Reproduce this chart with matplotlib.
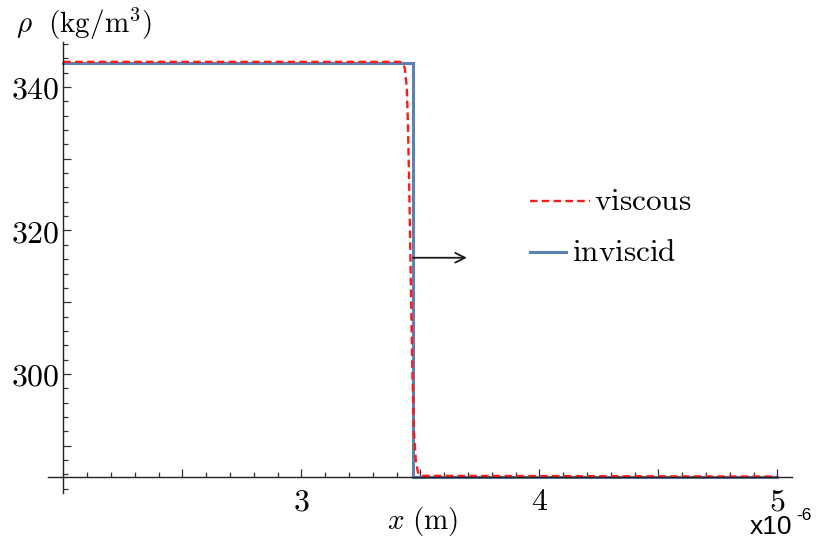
import matplotlib
matplotlib.use("Agg")
import matplotlib.pyplot as plt
from matplotlib.ticker import FixedLocator, FuncFormatter

plt.rcParams['mathtext.fontset'] = 'cm'

# positions in units of 1e-6 m, densities in kg/m^3
x_inviscid = [2.0, 3.4694, 3.4694, 5.0]
rho_inviscid = [343.3, 343.3, 285.64, 285.64]

x_viscous = [2.0, 3.414, 3.427, 3.435, 3.443, 3.448, 3.454, 3.460, 3.467,
             3.473, 3.481, 3.490, 3.502, 5.0]
rho_viscous = [343.5, 343.5, 343.3, 342.6, 340.0, 335.0, 325.0, 313.0, 300.0,
               292.0, 288.0, 286.3, 285.8, 285.7]

x_major = [2.5, 3, 3.5, 4, 4.5, 5]
x_labels = [3, 4, 5]
y_major = [290, 300, 310, 320, 330, 340]
y_labels = [300, 320, 340]

fig = plt.figure(figsize=(8.16, 5.42), dpi=100)
ax = fig.add_axes([0.0592, 0.0904, 0.9109, 0.8321])

ax.plot(x_inviscid, rho_inviscid, color='#5E81B5', lw=2.2, solid_joinstyle='miter')
ax.plot(x_viscous, rho_viscous, color='#FF1A1A', lw=1.7, dashes=(3.2, 1.8))

ax.set_xlim(1.937, 5.06)
ax.set_ylim(283.41, 346.27)

for s in ['top', 'right']:
    ax.spines[s].set_visible(False)
ax.spines['left'].set_position(('data', 2.0))
ax.spines['bottom'].set_position(('data', 285.64))
for s in ['left', 'bottom']:
    ax.spines[s].set_color('#222222')
    ax.spines[s].set_linewidth(1.0)

ax.xaxis.set_major_locator(FixedLocator(x_major))
ax.xaxis.set_minor_locator(FixedLocator([round(2.1 + 0.1 * i, 1) for i in range(29)]))
ax.yaxis.set_major_locator(FixedLocator(y_major))
ax.yaxis.set_minor_locator(FixedLocator(list(range(284, 347, 2))))

ax.xaxis.set_major_formatter(FuncFormatter(lambda v, p: f'${v:.0f}$' if round(v) in x_labels and abs(v - round(v)) < 1e-6 else ''))
ax.yaxis.set_major_formatter(FuncFormatter(lambda v, p: f'${v:.0f}$' if round(v) in y_labels else ''))

ax.tick_params(which='both', direction='in', color='#333333', width=0.9, labelsize=23)
ax.tick_params(which='major', length=6)
ax.tick_params(which='minor', length=3.3)
ax.tick_params(axis='x', pad=6.5)
ax.tick_params(axis='y', pad=3)

ax.text(0.02, 0.955, r'$\rho\ \ (\mathrm{kg/m}^3)$', transform=fig.transFigure,
        fontsize=21, ha='left', va='center')
ax.text(0.518, 0.037, r'$x\ (\mathrm{m})$', transform=fig.transFigure,
        fontsize=21, ha='center', va='center')
ax.text(0.919, 0.0148, 'x10', transform=fig.transFigure, fontsize=19,
        ha='left', va='baseline', family='Liberation Sans')
ax.text(0.976, 0.0406, '-6', transform=fig.transFigure, fontsize=12.5,
        ha='left', va='baseline', family='Liberation Sans')

# legend drawn by hand
ax.plot([0.648, 0.729], [0.647, 0.647], transform=ax.transAxes, color='#FF1A1A',
        lw=1.7, dashes=(3.2, 1.8))
ax.text(0.734, 0.647, r'$\mathrm{viscous}$', transform=ax.transAxes, fontsize=22.5,
        ha='left', va='center')
ax.plot([0.648, 0.6965], [0.534, 0.534], transform=ax.transAxes, color='#5E81B5', lw=2.2)
ax.text(0.7046, 0.534, r'$\mathrm{inviscid}$', transform=ax.transAxes, fontsize=22.5,
        ha='left', va='center')

# shock direction
ax.annotate('', xy=(3.696, 316.2), xytext=(3.4694, 316.2),
            arrowprops=dict(arrowstyle='->, head_length=0.7, head_width=0.35',
                            color='#1a1a1a', lw=1.3, shrinkA=0, shrinkB=0))

fig.savefig('out.png', dpi=100)
